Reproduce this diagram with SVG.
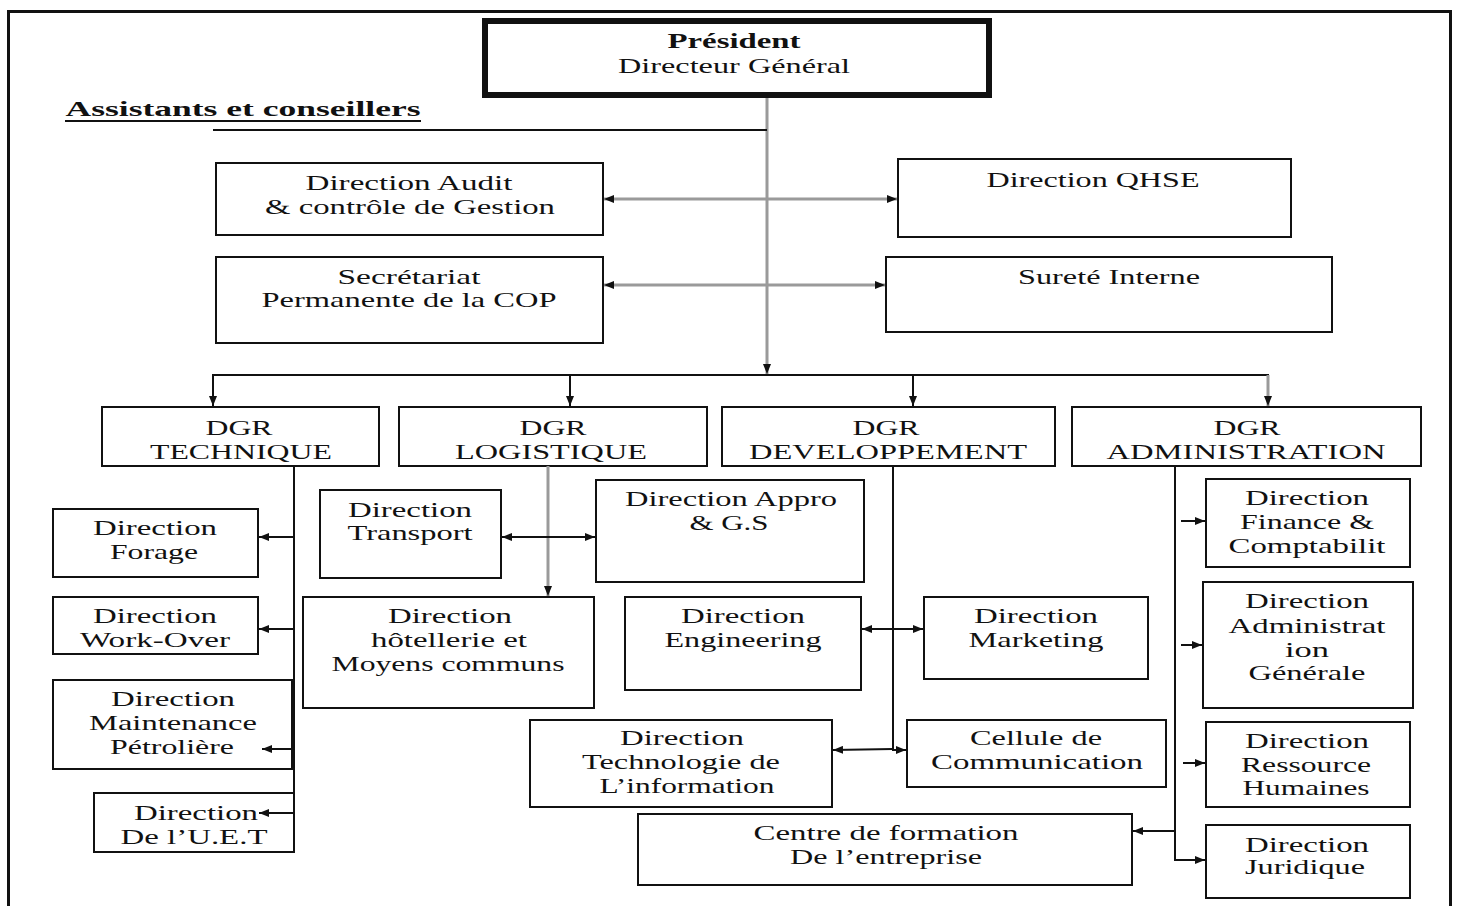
<svg xmlns="http://www.w3.org/2000/svg" width="1459" height="906" viewBox="0 0 1459 906">
  <style>
    .box { fill: #fff; stroke: #111; stroke-width: 2; }
    .t { font-family: "Liberation Serif", "Times New Roman", serif; font-size: 21px; fill: #111; text-anchor: middle; }
    .b { font-weight: bold; }
    .ln { fill: none; stroke: #111; stroke-width: 2; }
    .gl { fill: none; stroke: #9a9a9a; stroke-width: 3; }
  </style>
  <defs>
    <marker id="ah" viewBox="0 0 10 8" refX="10" refY="4" markerWidth="10" markerHeight="8" markerUnits="userSpaceOnUse" orient="auto-start-reverse">
      <path d="M0,0 L10,4 L0,8 z" fill="#111"/>
    </marker>
  </defs>

  <rect width="1459" height="906" fill="#fff"/>
  <!-- page frame -->
  <rect x="8.5" y="11.5" width="1442" height="900" fill="none" stroke="#111" stroke-width="3"/>

  <g id="president">
    <rect x="485" y="21" width="504" height="74" fill="#fff" stroke="#111" stroke-width="6"/>
    <text class="t b" x="734" y="48" font-size="22" textLength="133" lengthAdjust="spacingAndGlyphs">Président</text>
    <text class="t" x="734" y="73" font-size="22" textLength="232" lengthAdjust="spacingAndGlyphs">Directeur Général</text>
  </g>

  <g id="assistants">
    <text class="t b" x="243" y="116" font-size="23" textLength="355" lengthAdjust="spacingAndGlyphs">Assistants et conseillers</text>
    <line x1="65" y1="121" x2="421" y2="121" stroke="#111" stroke-width="2"/>
  </g>

  <g id="audit">
    <rect class="box" x="216" y="163" width="387" height="72"/>
    <text class="t" x="409" y="190" textLength="207" lengthAdjust="spacingAndGlyphs">Direction Audit</text>
    <text class="t" x="410" y="214" textLength="290" lengthAdjust="spacingAndGlyphs">&amp; contrôle de Gestion</text>
  </g>

  <g id="qhse">
    <rect class="box" x="898" y="159" width="393" height="78"/>
    <text class="t" x="1093" y="187" textLength="213" lengthAdjust="spacingAndGlyphs">Direction QHSE</text>
  </g>

  <g id="secretariat">
    <rect class="box" x="216" y="257" width="387" height="86"/>
    <text class="t" x="409" y="284" textLength="143" lengthAdjust="spacingAndGlyphs">Secrétariat</text>
    <text class="t" x="409" y="307" textLength="295" lengthAdjust="spacingAndGlyphs">Permanente de la COP</text>
  </g>

  <g id="surete">
    <rect class="box" x="886" y="257" width="446" height="75"/>
    <text class="t" x="1109" y="284" textLength="182" lengthAdjust="spacingAndGlyphs">Sureté Interne</text>
  </g>

  <g id="dgr-technique">
    <rect class="box" x="102" y="407" width="277" height="59"/>
    <text class="t" x="239" y="435" textLength="67" lengthAdjust="spacingAndGlyphs">DGR</text>
    <text class="t" x="241" y="459" textLength="182" lengthAdjust="spacingAndGlyphs">TECHNIQUE</text>
  </g>

  <g id="dgr-logistique">
    <rect class="box" x="399" y="407" width="308" height="59"/>
    <text class="t" x="553" y="435" textLength="67" lengthAdjust="spacingAndGlyphs">DGR</text>
    <text class="t" x="551" y="459" textLength="192" lengthAdjust="spacingAndGlyphs">LOGISTIQUE</text>
  </g>

  <g id="dgr-developpement">
    <rect class="box" x="722" y="407" width="333" height="59"/>
    <text class="t" x="886" y="435" textLength="67" lengthAdjust="spacingAndGlyphs">DGR</text>
    <text class="t" x="888" y="459" textLength="278" lengthAdjust="spacingAndGlyphs">DEVELOPPEMENT</text>
  </g>

  <g id="dgr-administration">
    <rect class="box" x="1072" y="407" width="349" height="59"/>
    <text class="t" x="1247" y="435" textLength="67" lengthAdjust="spacingAndGlyphs">DGR</text>
    <text class="t" x="1246" y="459" textLength="279" lengthAdjust="spacingAndGlyphs">ADMINISTRATION</text>
  </g>

  <g id="forage">
    <rect class="box" x="53" y="509" width="205" height="68"/>
    <text class="t" x="155" y="535" textLength="124" lengthAdjust="spacingAndGlyphs">Direction</text>
    <text class="t" x="154" y="559" textLength="88" lengthAdjust="spacingAndGlyphs">Forage</text>
  </g>

  <g id="work-over">
    <rect class="box" x="53" y="597" width="205" height="57"/>
    <text class="t" x="155" y="623" textLength="124" lengthAdjust="spacingAndGlyphs">Direction</text>
    <text class="t" x="155" y="647" textLength="150" lengthAdjust="spacingAndGlyphs">Work-Over</text>
  </g>

  <g id="maintenance">
    <rect class="box" x="53" y="680" width="239" height="89"/>
    <text class="t" x="173" y="706" textLength="124" lengthAdjust="spacingAndGlyphs">Direction</text>
    <text class="t" x="173" y="730" textLength="168" lengthAdjust="spacingAndGlyphs">Maintenance</text>
    <text class="t" x="172" y="754" textLength="124" lengthAdjust="spacingAndGlyphs">Pétrolière</text>
  </g>

  <g id="uet">
    <rect class="box" x="94" y="793" width="200" height="59"/>
    <text class="t" x="196" y="820" textLength="124" lengthAdjust="spacingAndGlyphs">Direction</text>
    <text class="t" x="194" y="844" textLength="147" lengthAdjust="spacingAndGlyphs">De l’U.E.T</text>
  </g>

  <g id="transport">
    <rect class="box" x="320" y="490" width="181" height="88"/>
    <text class="t" x="410" y="517" textLength="124" lengthAdjust="spacingAndGlyphs">Direction</text>
    <text class="t" x="410" y="540" textLength="125" lengthAdjust="spacingAndGlyphs">Transport</text>
  </g>

  <g id="appro">
    <rect class="box" x="596" y="480" width="268" height="102"/>
    <text class="t" x="731" y="506" textLength="212" lengthAdjust="spacingAndGlyphs">Direction Appro</text>
    <text class="t" x="729" y="530" textLength="79" lengthAdjust="spacingAndGlyphs">&amp; G.S</text>
  </g>

  <g id="hotellerie">
    <rect class="box" x="303" y="597" width="291" height="111"/>
    <text class="t" x="450" y="623" textLength="124" lengthAdjust="spacingAndGlyphs">Direction</text>
    <text class="t" x="449" y="647" textLength="156" lengthAdjust="spacingAndGlyphs">hôtellerie et</text>
    <text class="t" x="448" y="671" textLength="233" lengthAdjust="spacingAndGlyphs">Moyens communs</text>
  </g>

  <g id="engineering">
    <rect class="box" x="625" y="597" width="236" height="93"/>
    <text class="t" x="743" y="623" textLength="124" lengthAdjust="spacingAndGlyphs">Direction</text>
    <text class="t" x="743" y="647" textLength="157" lengthAdjust="spacingAndGlyphs">Engineering</text>
  </g>

  <g id="marketing">
    <rect class="box" x="924" y="597" width="224" height="82"/>
    <text class="t" x="1036" y="623" textLength="124" lengthAdjust="spacingAndGlyphs">Direction</text>
    <text class="t" x="1036" y="647" textLength="135" lengthAdjust="spacingAndGlyphs">Marketing</text>
  </g>

  <g id="technologie">
    <rect class="box" x="530" y="720" width="302" height="87"/>
    <text class="t" x="682" y="745" textLength="124" lengthAdjust="spacingAndGlyphs">Direction</text>
    <text class="t" x="681" y="769" textLength="198" lengthAdjust="spacingAndGlyphs">Technologie de</text>
    <text class="t" x="687" y="793" textLength="175" lengthAdjust="spacingAndGlyphs">L’information</text>
  </g>

  <g id="communication">
    <rect class="box" x="907" y="720" width="259" height="67"/>
    <text class="t" x="1036" y="745" textLength="132" lengthAdjust="spacingAndGlyphs">Cellule de</text>
    <text class="t" x="1037" y="769" textLength="212" lengthAdjust="spacingAndGlyphs">Communication</text>
  </g>

  <g id="formation">
    <rect class="box" x="638" y="814" width="494" height="71"/>
    <text class="t" x="886" y="840" textLength="265" lengthAdjust="spacingAndGlyphs">Centre de formation</text>
    <text class="t" x="886" y="864" textLength="192" lengthAdjust="spacingAndGlyphs">De l’entreprise</text>
  </g>

  <g id="finance">
    <rect class="box" x="1206" y="479" width="204" height="88"/>
    <text class="t" x="1307" y="505" textLength="124" lengthAdjust="spacingAndGlyphs">Direction</text>
    <text class="t" x="1307" y="529" textLength="134" lengthAdjust="spacingAndGlyphs">Finance &amp;</text>
    <text class="t" x="1307" y="553" textLength="157" lengthAdjust="spacingAndGlyphs">Comptabilit</text>
  </g>

  <g id="administration-generale">
    <rect class="box" x="1203" y="582" width="210" height="126"/>
    <text class="t" x="1307" y="608" textLength="124" lengthAdjust="spacingAndGlyphs">Direction</text>
    <text class="t" x="1307" y="633" textLength="157" lengthAdjust="spacingAndGlyphs">Administrat</text>
    <text class="t" x="1307" y="657" textLength="44" lengthAdjust="spacingAndGlyphs">ion</text>
    <text class="t" x="1307" y="680" textLength="117" lengthAdjust="spacingAndGlyphs">Générale</text>
  </g>

  <g id="ressources-humaines">
    <rect class="box" x="1206" y="722" width="204" height="85"/>
    <text class="t" x="1307" y="748" textLength="124" lengthAdjust="spacingAndGlyphs">Direction</text>
    <text class="t" x="1306" y="772" textLength="130" lengthAdjust="spacingAndGlyphs">Ressource</text>
    <text class="t" x="1306" y="795" textLength="127" lengthAdjust="spacingAndGlyphs">Humaines</text>
  </g>

  <g id="juridique">
    <rect class="box" x="1206" y="825" width="204" height="73"/>
    <text class="t" x="1307" y="852" textLength="124" lengthAdjust="spacingAndGlyphs">Direction</text>
    <text class="t" x="1305" y="874" textLength="120" lengthAdjust="spacingAndGlyphs">Juridique</text>
  </g>

  <!-- connectors, drawn last so arrowheads sit on top of box edges -->
  <g id="connectors">
    <line class="gl" x1="767" y1="98" x2="767" y2="374" marker-end="url(#ah)"/>
    <line class="ln" x1="213" y1="130" x2="767" y2="130"/>
    <line class="gl" x1="604" y1="199" x2="897" y2="199" marker-start="url(#ah)" marker-end="url(#ah)"/>
    <line class="gl" x1="604" y1="285" x2="885" y2="285" marker-start="url(#ah)" marker-end="url(#ah)"/>
    <line class="ln" x1="212" y1="375" x2="1269" y2="375"/>
    <line class="ln" x1="213" y1="375" x2="213" y2="406" marker-end="url(#ah)"/>
    <line class="ln" x1="570" y1="375" x2="570" y2="406" marker-end="url(#ah)"/>
    <line class="ln" x1="913" y1="375" x2="913" y2="406" marker-end="url(#ah)"/>
    <line class="gl" x1="1268" y1="375" x2="1268" y2="406" marker-end="url(#ah)"/>

    <!-- DGR Technique branch -->
    <line class="ln" x1="294" y1="466" x2="294" y2="852"/>
    <line class="ln" x1="294" y1="537" x2="259" y2="537" marker-end="url(#ah)"/>
    <line class="ln" x1="294" y1="629" x2="259" y2="629" marker-end="url(#ah)"/>
    <line class="ln" x1="292" y1="749" x2="262" y2="749" marker-end="url(#ah)"/>
    <line class="ln" x1="294" y1="813" x2="259" y2="813" marker-end="url(#ah)"/>

    <!-- DGR Logistique branch -->
    <line class="gl" x1="548" y1="466" x2="548" y2="596" marker-end="url(#ah)"/>
    <line class="ln" x1="502" y1="537" x2="595" y2="537" marker-start="url(#ah)" marker-end="url(#ah)"/>

    <!-- DGR Developpement branch -->
    <polyline class="ln" points="893,466 893,750 906,750" marker-end="url(#ah)"/>
    <line class="ln" x1="893" y1="749" x2="833" y2="750" marker-end="url(#ah)"/>
    <line class="ln" x1="862" y1="629" x2="923" y2="629" marker-start="url(#ah)" marker-end="url(#ah)"/>

    <!-- DGR Administration branch -->
    <polyline class="ln" points="1175,466 1175,860 1205,860" marker-end="url(#ah)"/>
    <line class="ln" x1="1181" y1="521" x2="1205" y2="521" marker-end="url(#ah)"/>
    <line class="ln" x1="1181" y1="645" x2="1202" y2="645" marker-end="url(#ah)"/>
    <line class="ln" x1="1183" y1="763" x2="1205" y2="763" marker-end="url(#ah)"/>
    <line class="ln" x1="1175" y1="831" x2="1133" y2="831" marker-end="url(#ah)"/>
  </g>
</svg>
